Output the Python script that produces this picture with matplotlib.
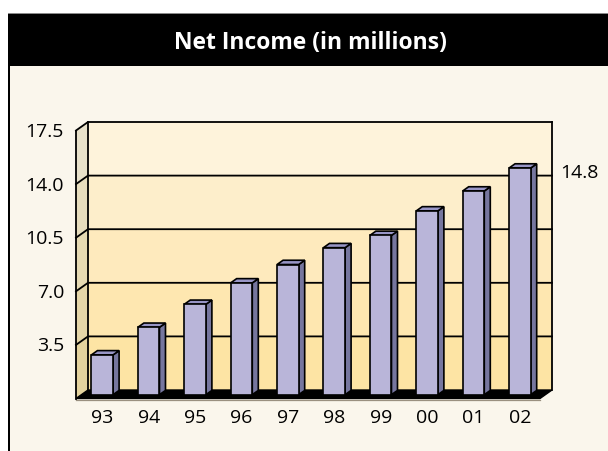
import matplotlib
matplotlib.use("Agg")
import matplotlib.pyplot as plt
from matplotlib.patches import Polygon, Rectangle

# data
years = ["93", "94", "95", "96", "97", "98", "99", "00", "01", "02"]
income = [2.6, 4.4, 5.9, 7.3, 8.5, 9.6, 10.4, 12.0, 13.3, 14.8]
ticks = [0, 3.5, 7.0, 10.5, 14.0, 17.5]
last_label = "14.8"
title = "Net Income (in millions)"

plt.rcParams["font.family"] = ["Open Sans", "DejaVu Sans"]

W, H = 608, 451
fig = plt.figure(figsize=(W / 100, H / 100), dpi=100)
fig.patch.set_facecolor("white")

def fx(px):
    return px / W

def fy(py):
    return 1 - py / H

# frame: cream panel, black header, left rule (kept behind the axes)
fig.add_artist(Rectangle((fx(10), 0), 1 - fx(10), fy(65.7), transform=fig.transFigure,
                         facecolor="#FAF6EC", edgecolor="none", zorder=-5))
fig.add_artist(Rectangle((fx(8), fy(65.7)), 1 - fx(8), (65.7 - 13.3) / H, transform=fig.transFigure,
                         facecolor="black", edgecolor="none", zorder=-5))
fig.add_artist(Rectangle((fx(8), fy(14)), 1 - fx(8), 1.2 / H, transform=fig.transFigure,
                         facecolor="#8a8a8a", edgecolor="none", zorder=-4))
fig.add_artist(Rectangle((fx(8), 0), 2.2 / W, fy(65.7), transform=fig.transFigure,
                         facecolor="black", edgecolor="none", zorder=-5))
fig.text(fx(310.5), fy(43), title, color="white", fontsize=16.5, fontweight="bold",
         ha="center", va="center")

# axes sits on the back wall of the 3d box
ax = fig.add_axes([fx(88), fy(390), 464 / W, 268 / H])
ax.set_zorder(2)
ax.set_xlim(0, len(years))
ax.set_ylim(0, ticks[-1])
ax.axis("off")

DX = 12 / 46.4   # depth offset in category units
DY = 8.5 / 15.314  # depth offset in value units
n = len(years)

back_cols = ["#FDE4A4", "#FEE7B0", "#FEEABD", "#FDEECB", "#FEF3DB"]
side_cols = ["#E4D39E", "#E5D6A8", "#E6DAB3", "#E7DDBD", "#E8E1CA"]
for k in range(len(ticks) - 1):
    a, b = ticks[k], ticks[k + 1]
    ax.add_patch(Rectangle((0, a), n, b - a, facecolor=back_cols[k], edgecolor="none",
                           clip_on=False, zorder=1))
    ax.add_patch(Polygon([(0, a), (0, b), (-DX, b - DY), (-DX, a - DY)], closed=True,
                         facecolor=side_cols[k], edgecolor="none", clip_on=False, zorder=1))

# floor
ax.add_patch(Polygon([(0, 0), (n, 0), (n - DX, -DY), (-DX, -DY)], closed=True,
                     facecolor="black", edgecolor="black", lw=1.0, clip_on=False, zorder=2))
ax.plot([-DX, n - DX], [-DY - 0.07, -DY - 0.07], color="#9a9080", lw=0.9, clip_on=False, zorder=2)

# gridlines and wall edges
for t in ticks[1:]:
    ax.plot([-DX, 0, n], [t - DY, t, t], color="black", lw=1.3, clip_on=False, zorder=3)
ax.plot([0, 0], [0, ticks[-1]], color="black", lw=1.3, clip_on=False, zorder=3)
ax.plot([n, n], [0, ticks[-1]], color="black", lw=1.3, clip_on=False, zorder=3)
ax.plot([-DX, -DX], [-DY, ticks[-1] - DY], color="black", lw=1.3, clip_on=False, zorder=3)

# bars
f_front, f_back = 0.55, 0.05
hw = 0.233
for i, v in enumerate(income):
    c = i + 0.45
    x0f, x1f = c - hw - f_front * DX, c + hw - f_front * DX
    x0b, x1b = c - hw - f_back * DX, c + hw - f_back * DX
    y0f, y1f = -f_front * DY, v - f_front * DY
    y0b, y1b = -f_back * DY, v - f_back * DY
    z = 5 + i
    ax.add_patch(Polygon([(x1f, y0f), (x1f, y1f), (x1b, y1b), (x1b, y0b)], closed=True,
                         facecolor="#76769E", edgecolor="black", lw=1.2, clip_on=False, zorder=z))
    ax.add_patch(Polygon([(x0f, y1f), (x1f, y1f), (x1b, y1b), (x0b, y1b)], closed=True,
                         facecolor="#9895C6", edgecolor="black", lw=1.2, clip_on=False, zorder=z))
    ax.add_patch(Rectangle((x0f, y0f), x1f - x0f, y1f - y0f, facecolor="#B9B5D9",
                           edgecolor="black", lw=1.2, clip_on=False, zorder=z))
    ax.annotate(years[i], (c - f_front * DX, -DY), xytext=(0, -19.5), textcoords="offset pixels",
                ha="center", va="center", fontsize=14, color="black", annotation_clip=False)

# value axis labels on the front edge
for t in ticks[1:]:
    ax.annotate(f"{t:.1f}", (-DX, t - DY), xytext=(-12, -1.5), textcoords="offset pixels",
                ha="right", va="center", fontsize=14, color="black", annotation_clip=False)

ax.annotate(last_label, (n, income[-1] - DY), xytext=(8, -1.5), textcoords="offset pixels",
            ha="left", va="center", fontsize=14, color="black", annotation_clip=False)

fig.savefig("out.png", dpi=100)
